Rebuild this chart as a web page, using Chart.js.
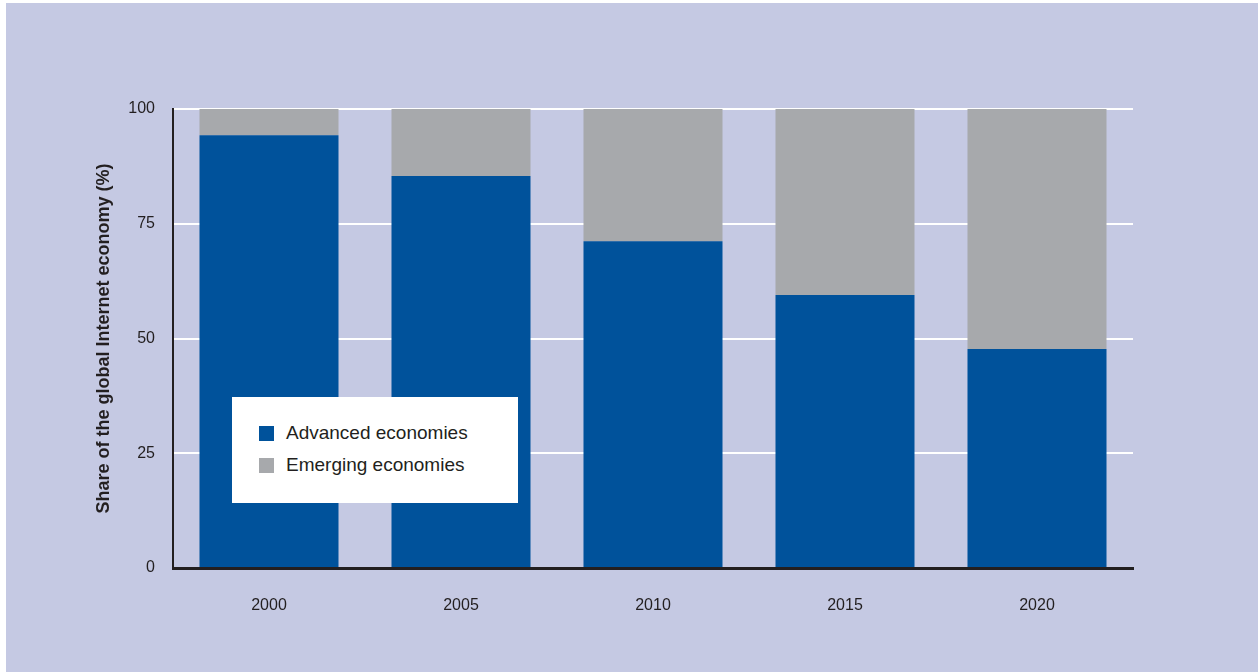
<!DOCTYPE html>
<html>
<head>
<meta charset="utf-8">
<script src="https://cdn.jsdelivr.net/npm/chart.js@4"></script>
<style>
  html, body { margin: 0; padding: 0; background: #ffffff; }
  #panel {
    position: absolute; left: 6px; top: 3px; width: 1252px; height: 669px;
    background: #c5c9e3;
  }
  #panel canvas { position: absolute; left: 0; top: 0; }
  #legend {
    position: absolute; left: 226px; top: 394px; width: 286px; height: 106px;
    background: #ffffff; font-family: "Liberation Sans Narrow", "Liberation Sans", sans-serif;
    font-size: 19px; color: #231f20;
  }
  .item { position: absolute; left: 27px; height: 20px; line-height: 20px; }
  .item span.box { position: absolute; left: 0; top: 3px; width: 15px; height: 15px; }
  .item span.txt { position: absolute; left: 27px; white-space: nowrap; }
</style>
</head>
<body>
<div id="panel">
  <canvas id="chart" width="1252" height="669"></canvas>
  <div id="legend"></div>
</div>
<script>
// Chart data
const years = ["2000", "2005", "2010", "2015", "2020"];
const advanced = [94.3, 85.4, 71.2, 59.5, 47.7];
const emerging = [5.7, 14.6, 28.8, 40.5, 52.3];
const yTicks = [0, 25, 50, 75, 100];

const blue = "#00529b";
const grey = "#a7a9ac";
const ink = "#231f20";
const font = "'Liberation Sans Narrow', 'Liberation Sans', sans-serif";

const ctx = document.getElementById("chart").getContext("2d");
const chart = new Chart(ctx, {
  type: "bar",
  data: {
    labels: years,
    datasets: [
      { label: "Advanced economies", data: advanced, backgroundColor: blue },
      { label: "Emerging economies", data: emerging, backgroundColor: grey }
    ]
  },
  options: {
    responsive: false,
    animation: false,
    layout: { padding: { left: 0, top: 106, right: 125, bottom: 0 } },
    plugins: { legend: { display: false }, tooltip: { enabled: false } },
    datasets: { bar: { categoryPercentage: 0.724, barPercentage: 1.0 } },
    scales: {
      x: {
        stacked: true,
        grid: { display: false },
        border: { display: true, color: ink, width: 3 },
        ticks: { color: ink, font: { family: font, size: 16 }, padding: 20 },
        afterFit: scale => { scale.height = 104; }
      },
      y: {
        stacked: true,
        min: 0,
        max: 100,
        afterBuildTicks: scale => { scale.ticks = yTicks.map(v => ({ value: v })); },
        grid: {
          color: ctx => ctx.tick && ctx.tick.value === 0 ? "rgba(0,0,0,0)" : "#ffffff",
          lineWidth: 2,
          drawTicks: false
        },
        border: { display: true, color: ink, width: 2 },
        ticks: { color: ink, font: { family: font, size: 16 }, padding: 18 },
        title: {
          display: true,
          text: "Share of the global Internet economy (%)",
          color: ink,
          font: { family: font, size: 18, weight: "bold" },
          padding: { top: 87, bottom: 18 }
        },
        afterFit: scale => { scale.width = 167; }
      }
    }
  }
});

// Custom legend box built from the datasets
const legend = document.getElementById("legend");
chart.data.datasets.forEach((ds, i) => {
  const item = document.createElement("div");
  item.className = "item";
  item.style.top = (26 + i * 32) + "px";
  item.innerHTML = '<span class="box" style="background:' + ds.backgroundColor + '"></span>' +
    '<span class="txt">' + ds.label + '</span>';
  legend.appendChild(item);
});
</script>
</body>
</html>
